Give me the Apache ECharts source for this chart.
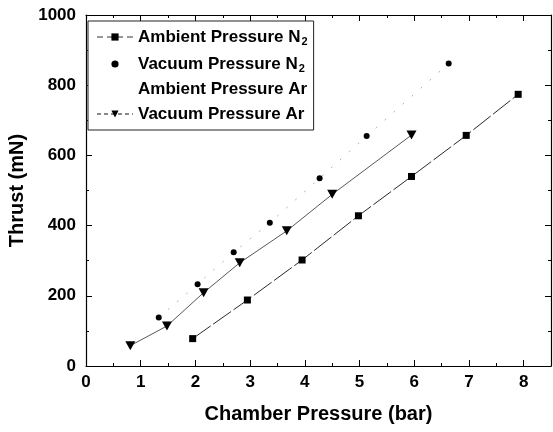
<!DOCTYPE html>
<html><head><meta charset="utf-8">
<script src="https://cdn.jsdelivr.net/npm/echarts@6/dist/echarts.min.js"></script>
<style>html,body{margin:0;padding:0;background:#fff}#c{width:553px;height:432px}</style>
</head><body><div id="c"></div>
<script>
const ambientN2X = [1.95, 2.95, 3.95, 4.98, 5.95, 6.95, 7.9];
const ambientN2Y = [78, 188, 302, 428, 540, 657, 774];
const vacuumN2X = [1.33, 2.04, 2.70, 3.36, 4.27, 5.13, 6.63];
const vacuumN2Y = [138, 233, 324, 408, 535, 655, 862];
const ambientArX = [];
const ambientArY = [];
const vacuumArX = [0.81, 1.48, 2.15, 2.81, 3.67, 4.5, 5.95];
const vacuumArY = [58, 114, 209, 294, 385, 489, 658];
const seriesNames = ['Ambient Pressure N2', 'Vacuum Pressure N2', 'Ambient Pressure Ar', 'Vacuum Pressure Ar'];
const xTitle = 'Chamber Pressure (bar)';
const yTitle = 'Thrust (mN)';

const pair = (xs, ys) => xs.map((x, i) => [x, ys[i]]);
const FONT = '"Liberation Sans", Arial, sans-serif';

function baseAxis(extra) {
  return Object.assign({
    type: 'value',
    axisLine: { show: true, onZero: false, lineStyle: { color: '#000', width: 1.2 } },
    axisTick: { show: true, inside: true, length: 6, lineStyle: { color: '#000', width: 1 } },
    minorTick: { show: true, splitNumber: 2, length: 3, lineStyle: { color: '#000', width: 1 } },
    splitLine: { show: false },
    axisLabel: { show: true, color: '#000', fontFamily: FONT, fontWeight: 'bold', fontSize: 17 }
  }, extra);
}

const chart = echarts.init(document.getElementById('c'), null, { renderer: 'canvas' });
chart.setOption({
  animation: false,
  backgroundColor: '#fff',
  grid: { left: 86, right: 2, top: 15, bottom: 66, containLabel: false, outerBoundsMode: 'none' },
  xAxis: [
    baseAxis({ min: 0, max: 8.5, interval: 1, position: 'bottom',
      name: xTitle, nameLocation: 'middle', nameGap: 38,
      nameTextStyle: { color: '#000', fontFamily: FONT, fontWeight: 'bold', fontSize: 20 },
      axisLabel: { color: '#000', fontFamily: FONT, fontWeight: 'bold', fontSize: 17, margin: 8,
        formatter: v => (Number.isInteger(v) ? String(v) : '') } }),
    baseAxis({ min: 0, max: 8.5, interval: 1, position: 'top', axisLabel: { show: false } })
  ],
  yAxis: [
    baseAxis({ min: 0, max: 1000, interval: 200, position: 'left',
      name: yTitle, nameLocation: 'middle', nameGap: 47,
      nameTextStyle: { color: '#000', fontFamily: FONT, fontWeight: 'bold', fontSize: 20 },
      axisLabel: { color: '#000', fontFamily: FONT, fontWeight: 'bold', fontSize: 17, margin: 10,
        formatter: v => String(v) } }),
    baseAxis({ min: 0, max: 1000, interval: 200, position: 'right', axisLabel: { show: false } })
  ],
  legend: {
    orient: 'vertical',
    left: 88, top: 21,
    padding: [4, 6, 6, 8],
    itemGap: 5,
    itemWidth: 36, itemHeight: 9,
    borderColor: '#222', borderWidth: 1,
    backgroundColor: '#fff',
    selectedMode: false,
    data: [
      { name: seriesNames[0], lineStyle: { color: '#333', width: 1, type: [6, 4] } },
      { name: seriesNames[1], lineStyle: { opacity: 0 } },
      { name: seriesNames[2] },
      { name: seriesNames[3], lineStyle: { color: '#888', type: [4, 3] } }
    ],
    formatter: function (name) {
      if (/N2$/.test(name)) return '{t|' + name.slice(0, -1) + '}{s|2}';
      return '{t|' + name + '}';
    },
    textStyle: {
      color: '#000', fontFamily: FONT, fontWeight: 'bold', fontSize: 17, lineHeight: 20,
      rich: {
        t: { color: '#000', fontFamily: FONT, fontWeight: 'bold', fontSize: 17, lineHeight: 20 },
        s: { color: '#000', fontFamily: FONT, fontWeight: 'bold', fontSize: 11, lineHeight: 20, verticalAlign: 'bottom', padding: [11, 0, 0, 1] }
      }
    }
  },
  series: [
    { name: seriesNames[0], type: 'line', xAxisIndex: 0, yAxisIndex: 0,
      data: pair(ambientN2X, ambientN2Y),
      symbol: 'rect', symbolSize: 7,
      itemStyle: { color: '#000' },
      lineStyle: { color: '#111', width: 0.9, type: [22, 3] } },
    { name: seriesNames[1], type: 'line', xAxisIndex: 0, yAxisIndex: 0,
      data: pair(vacuumN2X, vacuumN2Y),
      symbol: 'circle', symbolSize: 6,
      itemStyle: { color: '#000' },
      lineStyle: { color: '#b5b5b5', width: 1, type: [2, 10] } },
    { name: seriesNames[2], type: 'line', xAxisIndex: 0, yAxisIndex: 0,
      data: pair(ambientArX, ambientArY),
      symbol: 'none',
      itemStyle: { color: '#fff' },
      lineStyle: { color: '#fff', width: 0, opacity: 0 } },
    { name: seriesNames[3], type: 'line', xAxisIndex: 0, yAxisIndex: 0,
      data: pair(vacuumArX, vacuumArY),
      symbol: 'triangle', symbolSize: [10, 9], symbolRotate: 180,
      itemStyle: { color: '#000' },
      lineStyle: { color: '#444', width: 0.9 } }
  ]
});
</script></body></html>
